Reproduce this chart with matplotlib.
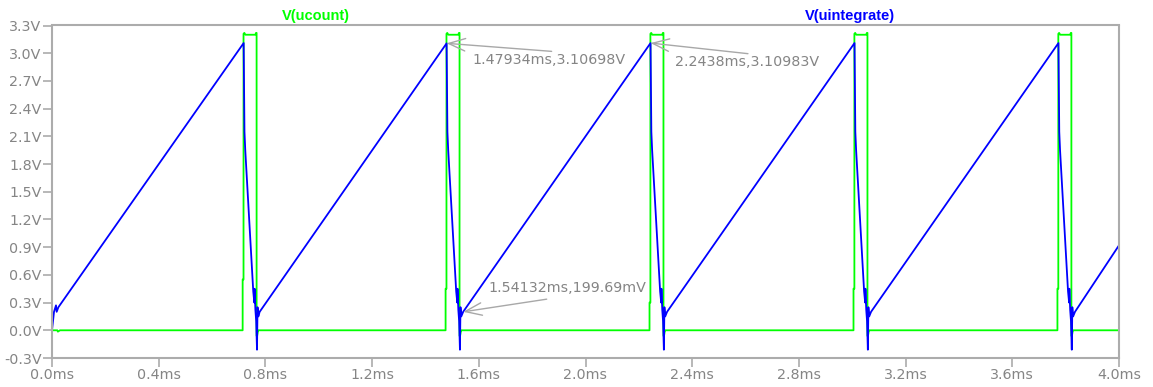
import matplotlib
matplotlib.use("Agg")
from matplotlib import pyplot as plt

# time in ms, voltage in V
uintegrate_t = [0.0, 0.0075, 0.015, 0.0175, 0.024,
                0.7185, 0.7215, 0.7245, 0.7545, 0.7585, 0.7595, 0.7625, 0.7655, 0.7685, 0.7705, 0.7735, 0.7785,
                1.4793, 1.4823, 1.4853, 1.5153, 1.5193, 1.5203, 1.5233, 1.5263, 1.5293, 1.5313, 1.5343, 1.54132,
                2.2438, 2.2468, 2.2498, 2.2798, 2.2838, 2.2848, 2.2878, 2.2908, 2.2938, 2.2958, 2.2988, 2.3058,
                3.0085, 3.0115, 3.0145, 3.0445, 3.0485, 3.0495, 3.0525, 3.0555, 3.0585, 3.0605, 3.0635, 3.0705,
                3.7730, 3.7760, 3.7790, 3.8090, 3.8130, 3.8140, 3.8170, 3.8200, 3.8230, 3.8250, 3.8280, 3.8350,
                4.0]
uintegrate_v = [0.0, 0.20, 0.27, 0.20, 0.25,
                3.11, 2.15, 1.95, 0.42, 0.30, 0.45, 0.22, 0.10, -0.21, 0.25, 0.15, 0.20,
                3.10698, 2.15, 1.95, 0.42, 0.30, 0.45, 0.22, 0.10, -0.21, 0.25, 0.15, 0.19969,
                3.10983, 2.15, 1.95, 0.42, 0.30, 0.45, 0.22, 0.10, -0.21, 0.25, 0.15, 0.20,
                3.11, 2.15, 1.95, 0.42, 0.30, 0.45, 0.22, 0.10, -0.21, 0.25, 0.15, 0.20,
                3.11, 2.15, 1.95, 0.42, 0.30, 0.45, 0.22, 0.10, -0.21, 0.25, 0.15, 0.20,
                0.92]

ucount_t = [0.0, 0.020, 0.022, 0.030,
            0.7147, 0.7147, 0.7180, 0.7180, 0.7210, 0.7250, 0.7620, 0.7650, 0.7670, 0.7670, 0.7690, 0.7720, 0.7720,
            1.4755, 1.4755, 1.4788, 1.4788, 1.4818, 1.4858, 1.5228, 1.5258, 1.5278, 1.5278, 1.5298, 1.5328, 1.5328,
            2.2400, 2.2400, 2.2433, 2.2433, 2.2463, 2.2503, 2.2873, 2.2903, 2.2923, 2.2923, 2.2943, 2.2973, 2.2973,
            3.0047, 3.0047, 3.0080, 3.0080, 3.0110, 3.0150, 3.0520, 3.0550, 3.0570, 3.0570, 3.0590, 3.0620, 3.0620,
            3.7692, 3.7692, 3.7725, 3.7725, 3.7755, 3.7795, 3.8165, 3.8195, 3.8215, 3.8215, 3.8235, 3.8265, 3.8265,
            4.0]
ucount_v = [0.0, 0.0, -0.015, 0.0,
            0.0, 0.55, 0.55, 3.21, 3.22, 3.20, 3.20, 3.22, 3.22, -0.06, -0.06, -0.01, 0.0,
            0.0, 0.45, 0.45, 3.21, 3.22, 3.20, 3.20, 3.22, 3.22, -0.06, -0.06, -0.01, 0.0,
            0.0, 0.30, 0.30, 3.21, 3.22, 3.20, 3.20, 3.22, 3.22, -0.06, -0.06, -0.01, 0.0,
            0.0, 0.45, 0.45, 3.21, 3.22, 3.20, 3.20, 3.22, 3.22, -0.06, -0.06, -0.01, 0.0,
            0.0, 0.45, 0.45, 3.21, 3.22, 3.20, 3.20, 3.22, 3.22, -0.06, -0.06, -0.01, 0.0,
            0.0]

x_ticks = [0.0, 0.4, 0.8, 1.2, 1.6, 2.0, 2.4, 2.8, 3.2, 3.6, 4.0]
y_ticks = [-0.3, 0.0, 0.3, 0.6, 0.9, 1.2, 1.5, 1.8, 2.1, 2.4, 2.7, 3.0, 3.3]

# cursor labels: (point, arrow tail, text position, text)
cursors = [
    ((1.47934, 3.10698), (1.873, 3.02), (1.578, 2.93), "1.47934ms,3.10698V"),
    ((2.2438, 3.10983), (2.609, 2.995), (2.3355, 2.90), "2.2438ms,3.10983V"),
    ((1.54132, 0.19969), (1.8545, 0.337), (1.6345, 0.459), "1.54132ms,199.69mV"),
]

GRAY_TXT = "#858585"
GRAY_AX = "#acacac"

fig = plt.figure(figsize=(11.53, 3.87), dpi=100)
fig.patch.set_facecolor("white")
ax = fig.add_axes([52 / 1153, 29 / 387, 1067 / 1153, 332.5 / 387])

ax.plot(ucount_t, ucount_v, color="#00ff00", lw=1.3)
ax.plot(uintegrate_t, uintegrate_v, color="#0000ff", lw=1.3)

ax.set_xlim(0, 4.0)
ax.set_ylim(-0.3, 3.3)
ax.set_xticks(x_ticks)
ax.set_xticklabels(["%.1fms" % x for x in x_ticks])
ax.set_yticks(y_ticks)
ax.set_yticklabels(["%.1fV" % y for y in y_ticks])

for s in ax.spines.values():
    s.set_color(GRAY_AX)
    s.set_linewidth(1.5)
ax.tick_params(direction="out", length=6.5, width=1.2, color=GRAY_AX,
               labelcolor=GRAY_TXT, labelsize=10.3, pad=1)

for tip, tail, txt_pos, txt in cursors:
    ax.annotate("", xy=tip, xytext=tail,
                arrowprops=dict(arrowstyle="->,head_length=1.2,head_width=0.45",
                                color="#a8a8a8", lw=1.0, shrinkA=0, shrinkB=0))
    ax.text(txt_pos[0], txt_pos[1], txt, color=GRAY_TXT, fontsize=10.3,
            ha="left", va="center")

fig.text(316 / 1153, 1 - 16 / 387, "V(ucount)", color="#00ff00",
         family="Liberation Sans", weight="bold", fontsize=10.5, ha="center", va="center")
fig.text(850 / 1153, 1 - 16 / 387, "V(uintegrate)", color="#0000ff",
         family="Liberation Sans", weight="bold", fontsize=10.5, ha="center", va="center")

fig.savefig("out.png", dpi=100)
